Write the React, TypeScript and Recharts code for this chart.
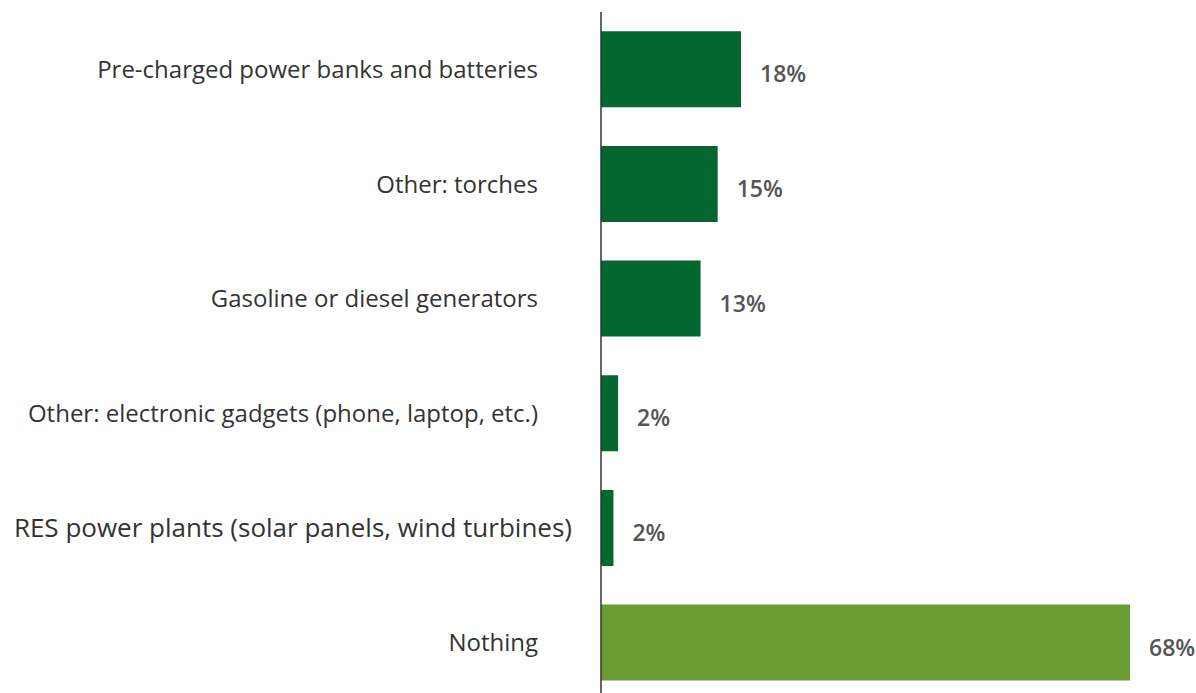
import { BarChart, Bar, XAxis, YAxis, Cell, LabelList } from 'recharts';

const categories = [
  'Pre-charged power banks and batteries',
  'Other: torches',
  'Gasoline or diesel generators',
  'Other: electronic gadgets (phone, laptop, etc.)',
  'RES power plants (solar panels, wind turbines)',
  'Nothing',
];
const shares = [18, 15, 12.8, 2.2, 1.6, 68];

const DARK = '#03672f';
const LIGHT = '#699c32';
const FONT = '"Open Sans", "Noto Sans", sans-serif';

const data = categories.map((name, i) => ({ name, value: shares[i] }));

// the RES label is set larger and overflows past the usual right edge in the original
const tickStyle: Record<string, { shift: number; size: number }> = {
  'RES power plants (solar panels, wind turbines)': { shift: 34, size: 26 },
};

function CategoryTick({ x, y, payload }: any) {
  const s = tickStyle[payload.value] ?? { shift: 0, size: 24 };
  return (
    <text
      x={x - 55 + s.shift}
      y={y - 1}
      textAnchor="end"
      dominantBaseline="central"
      fontFamily={FONT}
      fontSize={s.size}
      fill="#333333"
    >
      {payload.value}
    </text>
  );
}

function ValueLabel({ x, y, width, height, value }: any) {
  return (
    <text
      x={x + width + 19}
      y={y + height / 2 + 4}
      dominantBaseline="central"
      fontFamily={FONT}
      fontSize={23}
      fontWeight={600}
      fill="#555555"
    >
      {Math.round(value)}%
    </text>
  );
}

export default function App() {
  return (
    <div style={{ position: 'absolute', left: 0, top: 0, width: 1196, height: 693, overflow: 'hidden', background: '#fff' }}>
      <BarChart
        width={1196}
        height={700}
        data={data}
        layout="vertical"
        barCategoryGap="16.8%"
        margin={{ top: 12, right: 66, bottom: 0, left: 0 }}
        style={{ overflow: 'visible' }}
      >
        <XAxis type="number" domain={[0, 68]} hide />
        <YAxis
          type="category"
          dataKey="name"
          width={601}
          axisLine={{ stroke: '#333333', strokeWidth: 1.5 }}
          tickLine={false}
          tick={<CategoryTick />}
          interval={0}
        />
        <Bar dataKey="value" isAnimationActive={false}>
          {data.map((d, i) => (
            <Cell key={d.name} fill={i === data.length - 1 ? LIGHT : DARK} />
          ))}
          <LabelList dataKey="value" content={<ValueLabel />} />
        </Bar>
      </BarChart>
    </div>
  );
}
